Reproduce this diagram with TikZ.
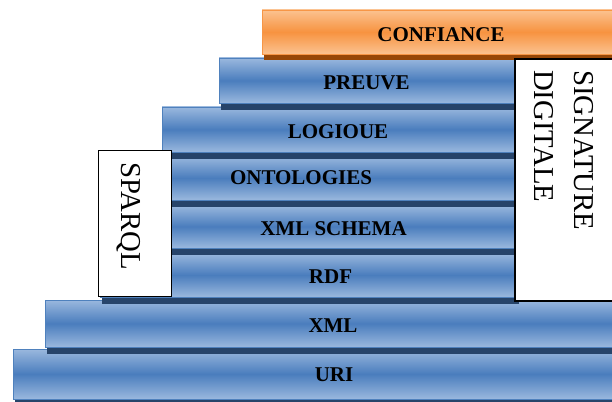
\documentclass[tikz,border=0pt]{standalone}
\usepackage{fontspec}
\setmainfont{Liberation Serif}
\usetikzlibrary{shadows}
\definecolor{blueL}{HTML}{9AB8DE}
\definecolor{blueM}{HTML}{4A7DBD}
\definecolor{blueB}{HTML}{4F81BD}
\definecolor{blueS}{HTML}{27446A}
\definecolor{orL}{HTML}{FBC290}
\definecolor{orM}{HTML}{F79340}
\definecolor{orB}{HTML}{F79646}
\definecolor{orS}{HTML}{974707}
\tikzset{
  barbase/.style={rectangle, anchor=north west, inner sep=0pt, outer sep=0pt, line width=0.8pt},
  bluebar/.style={barbase, draw=blueB, top color=blueL, bottom color=blueL, middle color=blueM,
    drop shadow={shadow xshift=2pt, shadow yshift=-6.5pt, fill=blueS, opacity=1}},
  orangebar/.style={barbase, draw=orB, top color=orL, bottom color=orL, middle color=orM,
    drop shadow={shadow xshift=2pt, shadow yshift=-6.5pt, fill=orS, opacity=1}},
  lbl/.style={inner sep=0pt, font=\bfseries\fontsize{21}{25}\selectfont},
  sidebox/.style={rectangle, anchor=north west, draw=black, fill=white, inner sep=0pt},
  sidetext/.style={inner sep=0pt, rotate=-90, font=\fontsize{28.8}{40}\selectfont},
}
\begin{document}
\begin{tikzpicture}[x=1pt, y=-1pt]
\useasboundingbox (0,0) rectangle (612,401);
\clip (0,0) rectangle (612,401);
% bars, bottom first
\node[bluebar, minimum width=604, minimum height=50] (uri) at (13,349) {};
\node[bluebar, minimum width=572, minimum height=47] (xml) at (45,300) {};
\node[bluebar, minimum width=417, minimum height=44] (rdf) at (100,253) {};
\node[bluebar, minimum width=417, minimum height=43] (xmls) at (100,205) {};
\node[bluebar, minimum width=417, minimum height=44] (onto) at (100,156) {};
\node[bluebar, minimum width=355, minimum height=45] (logi) at (162,107) {};
\node[bluebar, minimum width=298, minimum height=45] (preu) at (219,58) {};
\node[orangebar, minimum width=355, minimum height=44] (conf) at (262,10) {};
% labels
\node[lbl] (urit) at (334,374.5) {URI};
\node[lbl] (xmlt) at (333,325.5) {XML};
\node[lbl] (rdft) at (330.5,276.5) {RDF};
\node[lbl] (xmlst) at (333.5,229) {XML SCHEMA};
\node[lbl] (ontot) at (301,178) {ONTOLOGIES};
\node[lbl] (logit) at (338,131.5) {LOGIOUE};
\node[lbl] (preut) at (366.5,82.5) {PREUVE};
\node[lbl] (conft) at (441,34.5) {CONFIANCE};
% side boxes
\node[sidebox, line width=1.2pt, minimum width=73, minimum height=146] (sparqlbox) at (98,150) {};
\node[sidetext, anchor=base west] (sparqlt) at (121.5,162) {SPARQL};
\node[sidebox, line width=1.6pt, minimum width=110, minimum height=242] (sigbox) at (514,58) {};
\node[sidetext, anchor=north west, align=left] (sigt) at (594,70) {SIGNATURE\\DIGITALE};
\end{tikzpicture}
\end{document}
